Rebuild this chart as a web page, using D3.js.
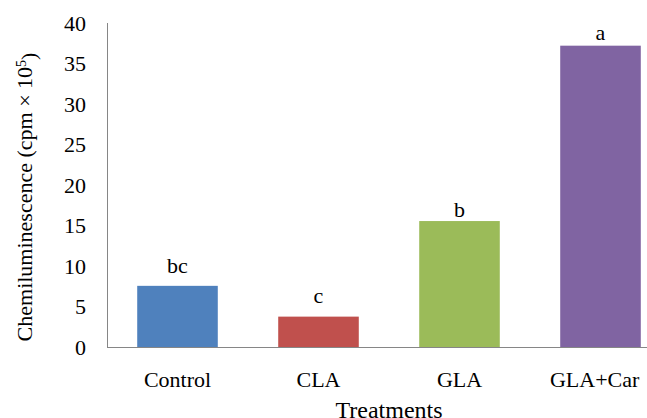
<!DOCTYPE html>
<html>
<head>
<meta charset="utf-8">
<script src="https://cdn.jsdelivr.net/npm/d3@7"></script>
<style>
  body { margin: 0; background: #fff; }
  svg text { font-family: "Liberation Serif", "Times New Roman", serif; fill: #000; }
</style>
</head>
<body>
<div id="chart"></div>
<script>
// data
const categories = ['Control', 'CLA', 'GLA', 'GLA+Car']
const values = [7.55, 3.75, 15.55, 37.2]
const letters = ['bc', 'c', 'b', 'a']
const barColors = ['#4F81BD', '#C0504D', '#9BBB59', '#8064A2']
const yTicks = [0, 5, 10, 15, 20, 25, 30, 35, 40]

const width = 647
const height = 418
// plot area runs past the right edge, as in the cropped original
const plot = { left: 107, right: 671, top: 23, bottom: 347 }
// letters were placed by hand in the original, so lift each one a bit differently
const letterLift = [12.7, 14, 4.3, 5.7]
const font = '"Liberation Serif", "Times New Roman", serif'

const svg = d3.select('#chart')
    .append('svg')
    .attr('width', width)
    .attr('height', height)

const x = d3.scaleBand()
    .domain(categories)
    .range([plot.left, plot.right])
    .paddingInner(0.4286)
    .paddingOuter(0.2143)

const y = d3.scaleLinear()
    .domain([0, 40])
    .range([plot.bottom, plot.top])

// bars
svg.append('g')
    .selectAll('rect')
    .data(categories)
    .enter()
    .append('rect')
    .attr('x', d => x(d))
    .attr('width', x.bandwidth())
    .attr('y', (d, i) => y(values[i]))
    .attr('height', (d, i) => y(0) - y(values[i]))
    .attr('fill', (d, i) => barColors[i])

// significance letters
svg.append('g')
    .selectAll('text')
    .data(categories)
    .enter()
    .append('text')
    .attr('x', d => x(d) + x.bandwidth() / 2)
    .attr('y', (d, i) => y(values[i]) - letterLift[i])
    .attr('text-anchor', 'middle')
    .style('font-size', '22px')
    .text((d, i) => letters[i])

// y axis
const yAxis = svg.append('g')
    .attr('transform', `translate(${plot.left},0)`)
    .call(d3.axisLeft(y).tickValues(yTicks).tickSize(0).tickPadding(21))
yAxis.select('.domain').attr('stroke', '#868686').attr('d', `M0.5,${plot.top}V${plot.bottom}`)
yAxis.selectAll('text').style('font-size', '22px').style('font-family', font).attr('dy', '0.34em')

// x axis
const xAxis = svg.append('g')
    .attr('transform', `translate(0,${plot.bottom})`)
    .call(d3.axisBottom(x).tickSize(0).tickPadding(23))
xAxis.select('.domain').attr('stroke', '#868686').attr('d', `M${plot.left},0.5H${plot.right}`)
xAxis.selectAll('text')
    .style('font-size', '22px')
    .style('font-family', font)
    .attr('dy', '0.76em')
    // keep a label inside the page when its bar is near the cut edge
    .each(function () {
        const box = this.getBBox()
        const tx = d3.select(this.parentNode).attr('transform')
        const cx = +tx.match(/translate\(([-\d.]+)/)[1]
        const over = cx + box.x + box.width - (width - 7)
        if (over > 0) d3.select(this).attr('x', -over)
    })

// axis titles
svg.append('text')
    .attr('x', (plot.left + plot.right) / 2)
    .attr('y', 418)
    .attr('text-anchor', 'middle')
    .style('font-size', '24px')
    .text('Treatments')

const yTitle = svg.append('text')
    .attr('transform', `translate(32,197) rotate(-90)`)
    .attr('text-anchor', 'middle')
    .style('font-size', '22px')
yTitle.append('tspan').text('Chemiluminescence (cpm × 10')
yTitle.append('tspan').attr('dy', '-0.45em').style('font-size', '14px').text('5')
yTitle.append('tspan').attr('dy', '0.45em').text(')')
</script>
</body>
</html>
